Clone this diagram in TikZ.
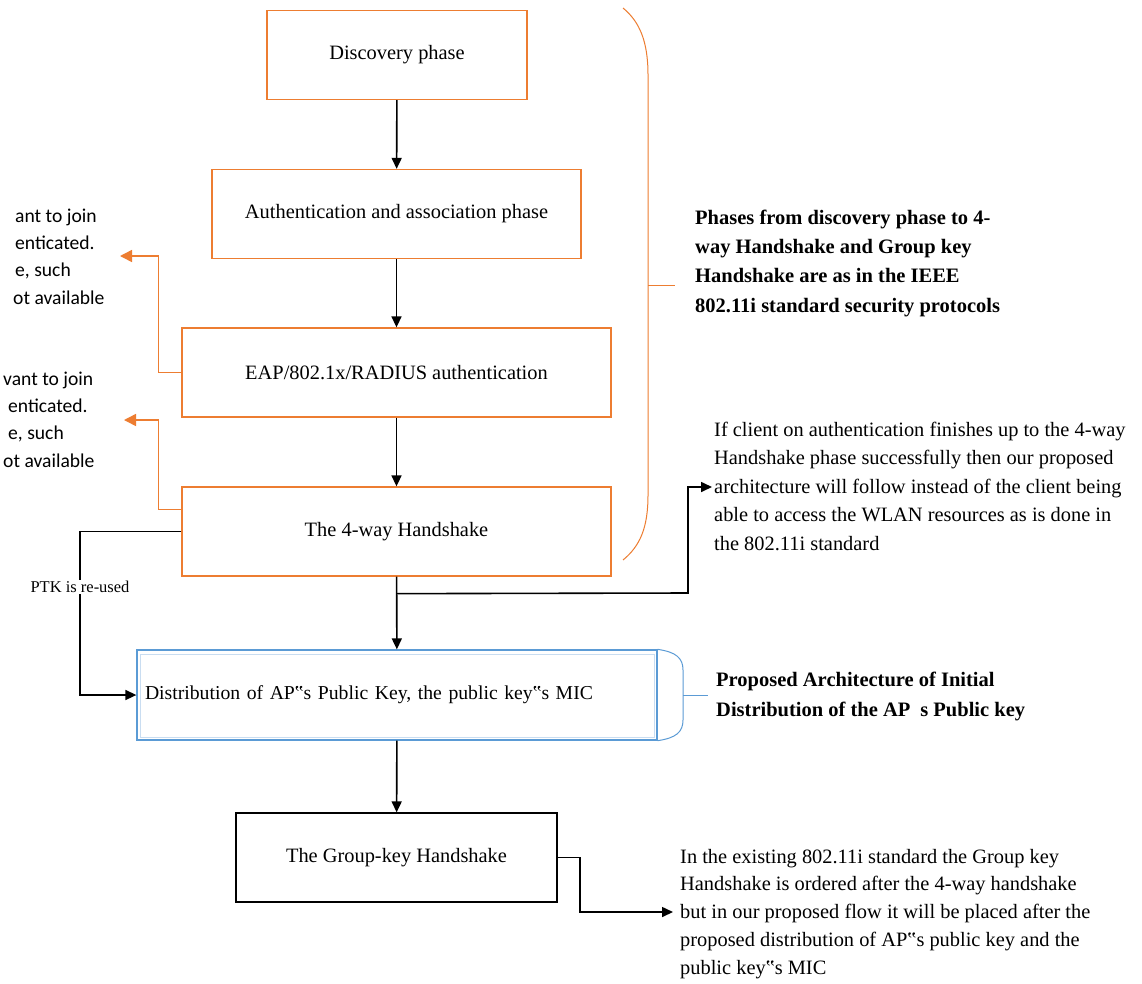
\documentclass[tikz,border=0pt]{standalone}
\usepackage{fontspec}
\setmainfont{Liberation Serif}
\newfontfamily\calibri{Carlito}
\usetikzlibrary{arrows.meta,calc}
\definecolor{orng}{HTML}{ED7D31}
\definecolor{blu}{HTML}{5B9BD5}
\definecolor{blulight}{HTML}{C9DDF1}
\begin{document}
\begin{tikzpicture}[x=1pt,y=-1pt,
  phase/.style={draw=orng,line width=1.3pt,minimum height=89pt,inner sep=0pt,
    font=\fontsize{20.4}{24}\selectfont},
  flow/.style={line width=1.6pt,-{Triangle[length=11pt,width=10pt]}},
  side/.style={draw=orng,line width=1.5pt,-{Triangle[length=12pt,width=12pt]}},
  note/.style={anchor=base west,align=left,inner sep=0pt,font=\fontsize{20.4}{28.5}\selectfont},
  bnote/.style={anchor=base west,align=left,inner sep=0pt,font=\fontsize{20.5}{29.3}\selectfont\bfseries},
  cnote/.style={anchor=base west,align=left,inner sep=0pt,font=\fontsize{19.6}{27.3}\selectfont\calibri}]
\fill[white] (0,0) rectangle (1142,983);

% main phases
\node[phase,minimum width=260pt] (disc) at (397,55) {\raisebox{-2pt}{Discovery phase}};
\node[phase,minimum width=369pt] (auth) at (396.5,214) {\raisebox{-2pt}{Authentication and association phase}};
\node[phase,minimum width=429pt] (eap) at (396.5,372.5) {\raisebox{-2pt}{EAP/802.1x/RADIUS authentication}};
\node[phase,minimum width=429pt] (four) at (396.5,531.5) {\raisebox{-2pt}{The 4-way Handshake}};
\draw[blulight,line width=1pt] (140,654) rectangle (654,737);
\node[draw=blu,line width=1.3pt,minimum height=90pt,text width=504pt,inner sep=8pt,align=left,
  font=\fontsize{19.7}{24}\selectfont] (dist) at (397,695)
  {Distribution of AP‟s Public Key, the public key‟s MIC};
\node[draw=black,line width=1.3pt,minimum width=321pt,minimum height=89pt,
  font=\fontsize{20.4}{24}\selectfont] (grp) at (396.5,857.5) {\raisebox{-2pt}{The Group-key Handshake}};

% main flow
\draw[flow] (disc) -- (auth);
\draw[flow] (auth) -- (eap);
\draw[flow] (eap) -- (four);
\draw[flow] (four) -- (dist);
\draw[flow] (dist) -- (grp);

% brace over the 802.11i phases
\draw[orng,line width=1pt] (623,8) .. controls (640,22) and (648,42) .. (648,75)
  -- (648,495) .. controls (648,528) and (640,546) .. (623,560);
\draw[orng,line width=1pt] (648,285) -- (675,285);
\node[bnote] (n802) at (695,312) {Phases from discovery phase to 4-\\way Handshake and Group key\\Handshake are as in the IEEE\\802.11i standard security protocols};

% bracket on the proposed step
\draw[blu,line width=1pt] (dist.north east) .. controls (676,652) and (683,658) .. (683,670)
  -- (683,720) .. controls (683,732) and (676,738) .. (dist.south east);
\draw[blu,line width=1pt] (683,695) -- (708,695);
\node[bnote] (nprop) at (716,716) {Proposed Architecture of Initial\\Distribution of the AP\hspace{10pt}s Public key};

% rejected clients
\coordinate (r1) at (120,256);
\coordinate (r2) at (124,420);
\draw[side] (eap.west) -- ++(-23,0) |- (r1);
\draw[side] ($(four.north west)+(0,23)$) -- ++(-23,0) |- (r2);
\node[cnote] (c1) at (13,304) {\hspace{2pt}ant to join\\\hspace{2pt}enticated.\\\hspace{2pt}e, such\\ot available};
\node[cnote] (c2) at (3,467) {vant to join\\\hspace{5pt}enticated.\\\hspace{5pt}e, such\\ot available};

% PTK re-use
\coordinate (pk) at (80,531.5);
\draw[flow] (four.west) -- (pk) |- (dist.west);
\node[fill=white,inner sep=1pt,font=\fontsize{16.5}{20}\selectfont] (ptk) at (80,587) {PTK is re-used};

% successful 4-way handshake
\coordinate (b0) at ($(four.south)+(0,17)$);
\coordinate (n1) at (712,487);
\draw[flow] (b0) -- (688,593) |- (n1);
\node[note] (t1) at (714,550) {If client on authentication finishes up to the 4-way\\Handshake phase successfully then our proposed\\architecture will follow instead of the client being\\able to access the WLAN resources as is done in\\the 802.11i standard};

% group key handshake note
\coordinate (n2) at (673,912);
\draw[flow] (grp.east) -- (580,857.5) |- (n2);
\node[note,font=\fontsize{20.4}{27.7}\selectfont] (t2) at (680,974) {In the existing 802.11i standard the Group key\\Handshake is ordered after the 4-way handshake\\but in our proposed flow it will be placed after the\\proposed distribution of AP‟s public key and the\\public key‟s MIC};
\end{tikzpicture}
\end{document}
